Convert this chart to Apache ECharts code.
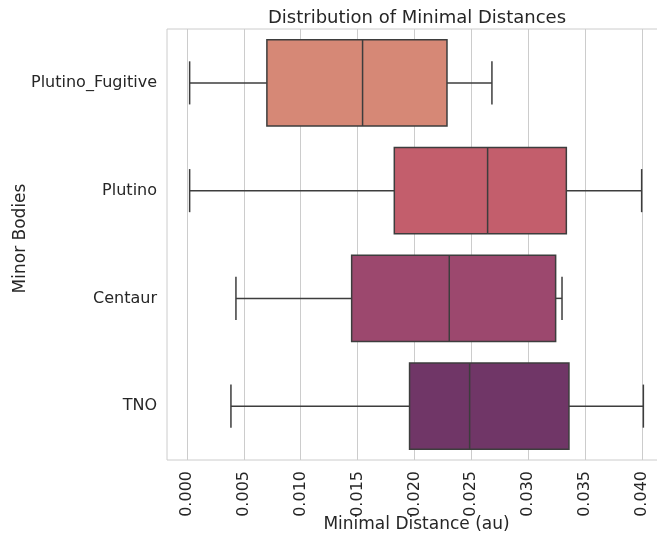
<!DOCTYPE html>
<html>
<head>
<meta charset="utf-8">
<title>Distribution of Minimal Distances</title>
<script src="https://cdn.jsdelivr.net/npm/echarts@6/dist/echarts.min.js"></script>
<style>
  html, body { margin: 0; padding: 0; background: #ffffff; }
  #chart { width: 657px; height: 537px; }
</style>
</head>
<body>
<div id="chart"></div>
<script>
// Minor body groups, top to bottom
const categories = ['Plutino_Fugitive', 'Plutino', 'Centaur', 'TNO'];

// Five-number summaries (au): lower whisker, Q1, median, Q3, upper whisker
const whiskerLow = [0.00024, 0.00024, 0.00431, 0.00387];
const quartile1  = [0.00703, 0.01823, 0.01448, 0.01957];
const medians    = [0.01544, 0.02643, 0.02306, 0.02485];
const quartile3  = [0.02286, 0.03335, 0.03241, 0.03358];
const whiskerHigh = [0.02681, 0.03997, 0.03297, 0.04012];

// Fill colours per group
const boxColors = ['#d68876', '#c35e6c', '#9c486e', '#703667'];

// Tick values along the distance axis
const xTicks = [0, 0.005, 0.010, 0.015, 0.020, 0.025, 0.030, 0.035, 0.040];

const rows = categories.map((c, i) => [i, whiskerLow[i], quartile1[i], medians[i], quartile3[i], whiskerHigh[i]]);

const textColor = '#262626';
const edgeColor = '#3d3d3d';
const font = 'DejaVu Sans';

function renderBox(params, api) {
  const cat = api.value(0);
  const lo = api.coord([api.value(1), cat]);
  const q1 = api.coord([api.value(2), cat]);
  const md = api.coord([api.value(3), cat]);
  const q3 = api.coord([api.value(4), cat]);
  const hi = api.coord([api.value(5), cat]);
  const band = api.size([0, 1])[1];
  const boxH = band * 0.8;
  const capH = boxH / 2;
  const y = lo[1];
  const line = { stroke: edgeColor, lineWidth: 1.5 };
  return {
    type: 'group',
    children: [
      { type: 'line', shape: { x1: lo[0], y1: y, x2: q1[0], y2: y }, style: line },
      { type: 'line', shape: { x1: q3[0], y1: y, x2: hi[0], y2: y }, style: line },
      { type: 'line', shape: { x1: lo[0], y1: y - capH / 2, x2: lo[0], y2: y + capH / 2 }, style: line },
      { type: 'line', shape: { x1: hi[0], y1: y - capH / 2, x2: hi[0], y2: y + capH / 2 }, style: line },
      {
        type: 'rect',
        shape: { x: q1[0], y: y - boxH / 2, width: q3[0] - q1[0], height: boxH },
        style: { fill: boxColors[params.dataIndex], stroke: edgeColor, lineWidth: 1.5 }
      },
      { type: 'line', shape: { x1: md[0], y1: y - boxH / 2, x2: md[0], y2: y + boxH / 2 }, style: line }
    ]
  };
}

const chart = echarts.init(document.getElementById('chart'), null, { renderer: 'canvas' });
chart.setOption({
  animation: false,
  backgroundColor: '#ffffff',
  textStyle: { fontFamily: font },
  title: {
    text: 'Distribution of Minimal Distances',
    left: 412,
    textAlign: 'center',
    top: 4,
    textStyle: { fontFamily: font, fontSize: 18, fontWeight: 'normal', color: textColor }
  },
  grid: {
    left: 167, top: 29, width: 499, height: 431,
    outerBoundsMode: 'none',
    containLabel: false,
    show: true, borderColor: '#cccccc', borderWidth: 1, backgroundColor: 'transparent'
  },
  xAxis: {
    type: 'value',
    min: -0.00175,
    max: 0.04211,
    name: 'Minimal Distance (au)',
    nameLocation: 'middle',
    nameMoveOverlap: false,
    nameGap: 56,
    nameTextStyle: { fontFamily: font, fontSize: 17, color: textColor },
    axisLine: { show: false },
    axisTick: { show: false, customValues: xTicks },
    axisLabel: {
      customValues: xTicks,
      rotate: 90,
      margin: 11,
      fontFamily: font,
      fontSize: 16,
      color: textColor,
      formatter: v => v.toFixed(3)
    },
    splitLine: { show: true, lineStyle: { color: '#cccccc', width: 1 } }
  },
  yAxis: {
    type: 'category',
    data: categories,
    inverse: true,
    name: 'Minor Bodies',
    nameLocation: 'middle',
    nameMoveOverlap: false,
    nameRotate: 90,
    nameGap: 138,
    nameTextStyle: { fontFamily: font, fontSize: 17, color: textColor, padding: [0, 0, 0, 12] },
    axisLine: { show: false },
    axisTick: { show: false },
    axisLabel: { margin: 10, fontFamily: font, fontSize: 16, color: textColor },
    splitLine: { show: false }
  },
  series: [{
    type: 'custom',
    renderItem: renderBox,
    encode: { y: 0, x: [1, 2, 3, 4, 5] },
    data: rows,
    clip: true
  }]
});
</script>
</body>
</html>
